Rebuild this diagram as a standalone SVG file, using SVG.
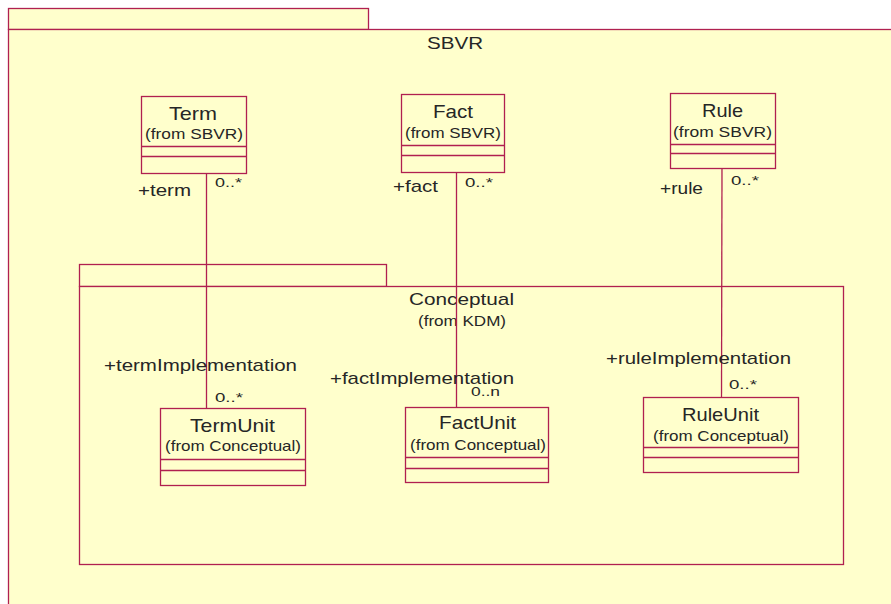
<svg xmlns="http://www.w3.org/2000/svg" width="891" height="604" viewBox="0 0 891 604">
<style>
.pk{fill:#FFFFCC;stroke:#B02050;stroke-width:1.3}
.bx{fill:#FFFFCC;stroke:#B02050;stroke-width:1.3}
.ln{stroke:#B02050;stroke-width:1.3;fill:none}
text{font-family:"Liberation Sans",Arial,sans-serif;fill:#262626}
.n{font-size:19px}
.p{font-size:17px}
.s{font-size:15px}
.r{font-size:17px}
.m{font-size:12px}
</style>
<rect width="891" height="604" fill="#FFFFFF"/>
<g id="SBVR">
<rect class="pk" x="8.5" y="8.5" width="360" height="21"/>
<rect class="pk" x="8.5" y="29.5" width="890" height="590"/>
<text class="p" x="427" y="49" textLength="56" lengthAdjust="spacingAndGlyphs">SBVR</text>
</g>
<g id="Conceptual">
<rect class="pk" x="79.5" y="264.5" width="307" height="22"/>
<rect class="pk" x="79.5" y="286.5" width="764" height="278"/>
<text class="p" x="409" y="305" textLength="105" lengthAdjust="spacingAndGlyphs">Conceptual</text>
<text class="s" x="418" y="326" textLength="88" lengthAdjust="spacingAndGlyphs">(from KDM)</text>
</g>
<g id="connectors">
<line class="ln" x1="206.5" y1="173" x2="206.5" y2="408"/>
<line class="ln" x1="456.5" y1="172" x2="456.5" y2="407"/>
<line class="ln" x1="722" y1="168" x2="721.5" y2="397"/>
<text class="r" x="138" y="196" textLength="53" lengthAdjust="spacingAndGlyphs">+term</text>
<text class="m" x="215" y="187" textLength="27" lengthAdjust="spacingAndGlyphs">0..*</text>
<text class="r" x="393" y="192" textLength="45" lengthAdjust="spacingAndGlyphs">+fact</text>
<text class="m" x="465" y="187" textLength="28" lengthAdjust="spacingAndGlyphs">0..*</text>
<text class="r" x="660" y="194" textLength="43" lengthAdjust="spacingAndGlyphs">+rule</text>
<text class="m" x="731" y="185" textLength="28" lengthAdjust="spacingAndGlyphs">0..*</text>
<text class="r" x="104" y="371" textLength="193" lengthAdjust="spacingAndGlyphs">+termImplementation</text>
<text class="m" x="215" y="402" textLength="28" lengthAdjust="spacingAndGlyphs">0..*</text>
<text class="r" x="330" y="384" textLength="184" lengthAdjust="spacingAndGlyphs">+factImplementation</text>
<text class="m" x="471" y="396" textLength="29" lengthAdjust="spacingAndGlyphs">0..n</text>
<text class="r" x="606" y="364" textLength="185" lengthAdjust="spacingAndGlyphs">+ruleImplementation</text>
<text class="m" x="729" y="389" textLength="28" lengthAdjust="spacingAndGlyphs">0..*</text>
</g>
<g id="Term">
<rect class="bx" x="141.5" y="96.5" width="105" height="77"/>
<line class="ln" x1="141.5" y1="146.5" x2="246.5" y2="146.5"/>
<line class="ln" x1="141.5" y1="156.5" x2="246.5" y2="156.5"/>
<text class="n" x="169" y="120" textLength="48" lengthAdjust="spacingAndGlyphs">Term</text>
<text class="s" x="145" y="139" textLength="98" lengthAdjust="spacingAndGlyphs">(from SBVR)</text>
</g>
<g id="Fact">
<rect class="bx" x="401.5" y="94.5" width="103" height="78"/>
<line class="ln" x1="401.5" y1="145.5" x2="504.5" y2="145.5"/>
<line class="ln" x1="401.5" y1="155.5" x2="504.5" y2="155.5"/>
<text class="n" x="433" y="118" textLength="40" lengthAdjust="spacingAndGlyphs">Fact</text>
<text class="s" x="405" y="138" textLength="96" lengthAdjust="spacingAndGlyphs">(from SBVR)</text>
</g>
<g id="Rule">
<rect class="bx" x="670.5" y="93.5" width="105" height="75"/>
<line class="ln" x1="670.5" y1="144.5" x2="775.5" y2="144.5"/>
<line class="ln" x1="670.5" y1="153.5" x2="775.5" y2="153.5"/>
<text class="n" x="702" y="117" textLength="41" lengthAdjust="spacingAndGlyphs">Rule</text>
<text class="s" x="673" y="137" textLength="99" lengthAdjust="spacingAndGlyphs">(from SBVR)</text>
</g>
<g id="TermUnit">
<rect class="bx" x="160.5" y="408.5" width="145" height="77"/>
<line class="ln" x1="160.5" y1="459.5" x2="305.5" y2="459.5"/>
<line class="ln" x1="160.5" y1="470.5" x2="305.5" y2="470.5"/>
<text class="n" x="190" y="432" textLength="85" lengthAdjust="spacingAndGlyphs">TermUnit</text>
<text class="s" x="165" y="451" textLength="136" lengthAdjust="spacingAndGlyphs">(from Conceptual)</text>
</g>
<g id="FactUnit">
<rect class="bx" x="405.5" y="407.5" width="143" height="75"/>
<line class="ln" x1="405.5" y1="457.5" x2="548.5" y2="457.5"/>
<line class="ln" x1="405.5" y1="468.5" x2="548.5" y2="468.5"/>
<text class="n" x="439" y="429" textLength="77" lengthAdjust="spacingAndGlyphs">FactUnit</text>
<text class="s" x="410" y="450" textLength="136" lengthAdjust="spacingAndGlyphs">(from Conceptual)</text>
</g>
<g id="RuleUnit">
<rect class="bx" x="643.5" y="397.5" width="155" height="75"/>
<line class="ln" x1="643.5" y1="447.5" x2="798.5" y2="447.5"/>
<line class="ln" x1="643.5" y1="457.5" x2="798.5" y2="457.5"/>
<text class="n" x="682" y="421" textLength="77" lengthAdjust="spacingAndGlyphs">RuleUnit</text>
<text class="s" x="653" y="441" textLength="136" lengthAdjust="spacingAndGlyphs">(from Conceptual)</text>
</g>
</svg>
